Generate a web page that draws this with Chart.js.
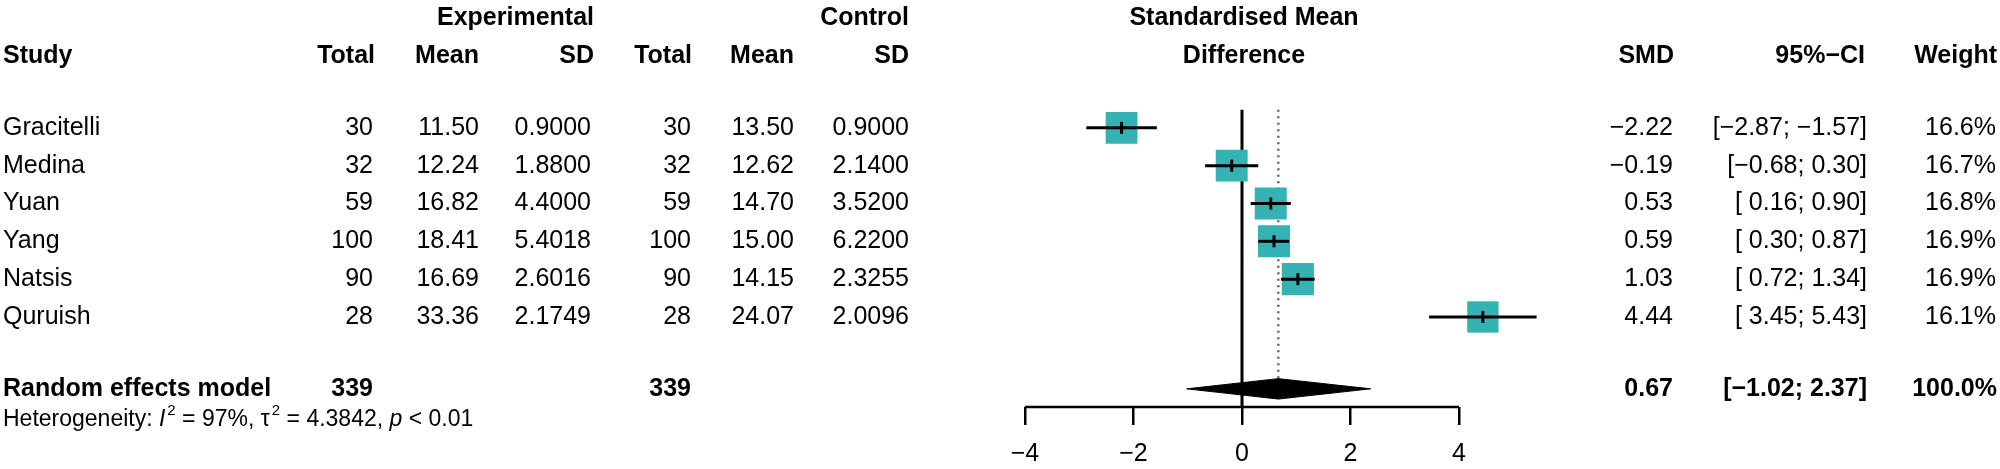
<!DOCTYPE html>
<html>
<head>
<meta charset="utf-8">
<script src="https://cdn.jsdelivr.net/npm/chart.js@4"></script>
<style>
  html, body { margin: 0; padding: 0; background: #fff; }
  #wrap { width: 2000px; height: 469px; }
</style>
</head>
<body>
<div id="wrap"><canvas id="canvas" width="2000" height="469"></canvas></div>
<script>
// study level data
var studies   = ['Gracitelli', 'Medina', 'Yuan', 'Yang', 'Natsis', 'Quruish'];
var expTotal  = [30, 32, 59, 100, 90, 28];
var expMean   = [11.50, 12.24, 16.82, 18.41, 16.69, 33.36];
var expSD     = [0.9000, 1.8800, 4.4000, 5.4018, 2.6016, 2.1749];
var ctlTotal  = [30, 32, 59, 100, 90, 28];
var ctlMean   = [13.50, 12.62, 14.70, 15.00, 14.15, 24.07];
var ctlSD     = [0.9000, 2.1400, 3.5200, 6.2200, 2.3255, 2.0096];
var smd       = [-2.22, -0.19, 0.53, 0.59, 1.03, 4.44];
var ciLow     = [-2.87, -0.68, 0.16, 0.30, 0.72, 3.45];
var ciHigh    = [-1.57, 0.30, 0.90, 0.87, 1.34, 5.43];
var weight    = [16.6, 16.7, 16.8, 16.9, 16.9, 16.1];

// pooled (random effects) result
var pooledLabel = 'Random effects model';
var pooledTotal = [339, 339];
var pooledSMD   = [0.67];
var pooledCI    = [-1.02, 2.37];
var pooledW     = [100.0];
var hetI2 = '97%', hetTau2 = '4.3842', hetP = '< 0.01';

var xTicks = [-4, -2, 0, 2, 4];

// layout (row units on the hidden y scale)
var ROW_H1 = -1.91, ROW_H2 = -0.905, ROW_POOL = 7.9, ROW_HET = 8.72, ROW_TOP = 0.52, ROW_MAX = 8.38;
var DIA_H = 0.27;
var X_MAX = 6;   // plot area runs past 4 so the Quruish square is drawn; axis line stops at 4
var FONT = '"Liberation Sans", Arial, sans-serif';
var TEAL = '#35b2b3';

function minus(s) { return String(s).replace('-', '\u2212'); }
function f2(v) { return minus(v.toFixed(2)); }
function ci(lo, hi) {
  var a = f2(lo);
  if (lo >= 0) a = ' ' + a;
  return '[' + a + '; ' + f2(hi) + ']';
}

var datasets = [];

// axis line from first to last tick
datasets.push({ data: [{x: xTicks[0], y: ROW_MAX}, {x: xTicks[xTicks.length - 1], y: ROW_MAX}], showLine: true,
  borderColor: '#000', borderWidth: 2.5, pointRadius: 0, order: 9, clip: false });
// vertical line of no effect
datasets.push({ data: [{x: 0, y: ROW_TOP}, {x: 0, y: ROW_MAX}], showLine: true,
  borderColor: '#000', borderWidth: 3, pointRadius: 0, order: 9, clip: false });
// dotted line at pooled estimate
datasets.push({ data: [{x: pooledSMD[0], y: ROW_TOP}, {x: pooledSMD[0], y: ROW_POOL - DIA_H}], showLine: true,
  borderColor: '#666', borderWidth: 2.5, borderDash: [2, 4.5], pointRadius: 0, order: 9, clip: false });

// squares, size by weight
datasets.push({
  data: studies.map(function (s, i) { return {x: smd[i], y: i + 1}; }),
  pointStyle: 'rect', backgroundColor: TEAL, borderWidth: 0,
  pointRadius: weight.map(function (w) { return 16 * Math.sqrt(w / 16.8) / Math.SQRT1_2; }),
  order: 5, clip: false
});

// confidence intervals
studies.forEach(function (s, i) {
  datasets.push({ data: [{x: ciLow[i], y: i + 1}, {x: ciHigh[i], y: i + 1}], showLine: true,
    borderColor: '#000', borderWidth: 3, pointRadius: 0, order: 3, clip: false });
});

// estimate marks
datasets.push({
  data: studies.map(function (s, i) { return {x: smd[i], y: i + 1}; }),
  pointStyle: 'line', rotation: 90, pointRadius: 6, borderColor: '#000', borderWidth: 3,
  order: 2, clip: false
});

// pooled diamond
datasets.push({
  type: 'line',
  data: [{x: pooledCI[0], y: ROW_POOL}, {x: pooledSMD[0], y: ROW_POOL - DIA_H},
         {x: pooledCI[1], y: ROW_POOL}, {x: pooledSMD[0], y: ROW_POOL + DIA_H},
         {x: pooledCI[0], y: ROW_POOL}],
  borderColor: '#000', borderWidth: 1, backgroundColor: '#000', fill: 'shape',
  pointRadius: 0, tension: 0, order: 1, clip: false
});

// table text around the plot
var tablePlugin = {
  id: 'table',
  afterDraw: function (chart) {
    var ctx = chart.ctx, ys = chart.scales.y;
    function put(t, x, row, align, bold, size) {
      ctx.font = (bold ? 'bold ' : '') + (size || 25) + 'px ' + FONT;
      ctx.textAlign = align;
      ctx.textBaseline = 'middle';
      ctx.fillStyle = '#000';
      ctx.fillText(t, x, ys.getPixelForValue(row));
    }
    ctx.save();
    // headers
    put('Experimental', 594, ROW_H1, 'right', true);
    put('Control', 909, ROW_H1, 'right', true);
    put('Standardised Mean', 1244, ROW_H1, 'center', true);
    put('Study', 3, ROW_H2, 'left', true);
    put('Total', 375, ROW_H2, 'right', true);
    put('Mean', 479, ROW_H2, 'right', true);
    put('SD', 594, ROW_H2, 'right', true);
    put('Total', 692, ROW_H2, 'right', true);
    put('Mean', 794, ROW_H2, 'right', true);
    put('SD', 909, ROW_H2, 'right', true);
    put('Difference', 1244, ROW_H2, 'center', true);
    put('SMD', 1674, ROW_H2, 'right', true);
    put('95%\u2212CI', 1865, ROW_H2, 'right', true);
    put('Weight', 1997, ROW_H2, 'right', true);

    // study rows
    studies.forEach(function (s, i) {
      var r = i + 1;
      put(s, 3, r, 'left');
      put(String(expTotal[i]), 373, r, 'right');
      put(expMean[i].toFixed(2), 479, r, 'right');
      put(expSD[i].toFixed(4), 591, r, 'right');
      put(String(ctlTotal[i]), 691, r, 'right');
      put(ctlMean[i].toFixed(2), 794, r, 'right');
      put(ctlSD[i].toFixed(4), 909, r, 'right');
      put(f2(smd[i]), 1673, r, 'right');
      put(ci(ciLow[i], ciHigh[i]), 1867, r, 'right');
      put(weight[i].toFixed(1) + '%', 1996, r, 'right');
    });

    // pooled row
    put(pooledLabel, 3, ROW_POOL, 'left', true);
    put(String(pooledTotal[0]), 373, ROW_POOL, 'right', true);
    put(String(pooledTotal[1]), 691, ROW_POOL, 'right', true);
    put(f2(pooledSMD[0]), 1673, ROW_POOL, 'right', true);
    put(ci(pooledCI[0], pooledCI[1]), 1867, ROW_POOL, 'right', true);
    put(pooledW[0].toFixed(1) + '%', 1997, ROW_POOL, 'right', true);

    // heterogeneity line with italics and superscripts
    var y = ys.getPixelForValue(ROW_HET), x = 3;
    var parts = [
      ['Heterogeneity: ', ''], ['I', 'italic '], ['2', 'sup'], [' = ' + hetI2 + ', ', ''],
      ['\u03c4', ''], ['2', 'sup'], [' = ' + hetTau2 + ', ', ''], ['p', 'italic '], [' ' + hetP, '']
    ];
    ctx.textAlign = 'left';
    ctx.textBaseline = 'middle';
    parts.forEach(function (p) {
      if (p[1] === 'sup') {
        ctx.font = '15px ' + FONT;
        ctx.fillText(p[0], x + 2, y - 9);
        x += ctx.measureText(p[0]).width + 2;
      } else {
        ctx.font = p[1] + '23px ' + FONT;
        ctx.fillText(p[0], x, y);
        x += ctx.measureText(p[0]).width;
      }
    });
    ctx.restore();
  }
};

// -4 at 1025px, 54.25px per unit
var chart = new Chart(document.getElementById('canvas'), {
  type: 'scatter',
  data: { datasets: datasets },
  options: {
    responsive: false,
    devicePixelRatio: 1,
    animation: false,
    layout: { padding: { left: 1025, right: 2000 - 1025 - 54.25 * (X_MAX - xTicks[0]), top: 90, bottom: 0 } },
    plugins: { legend: { display: false }, tooltip: { enabled: false } },
    scales: {
      x: {
        type: 'linear', min: xTicks[0], max: X_MAX,
        afterBuildTicks: function (s) { s.ticks = xTicks.map(function (v) { return {value: v}; }); },
        afterFit: function (s) { s.height = 62; },
        ticks: {
          color: '#000', padding: 14, font: { family: FONT, size: 25 },
          callback: function (v) { return minus(v); }
        },
        grid: { display: true, drawOnChartArea: false, drawTicks: true, tickLength: 18,
                color: '#000', lineWidth: 2.5 },
        border: { display: false }
      },
      y: { type: 'linear', reverse: true, min: 0, max: ROW_MAX, display: false }
    }
  },
  plugins: [tablePlugin]
});
</script>
</body>
</html>
